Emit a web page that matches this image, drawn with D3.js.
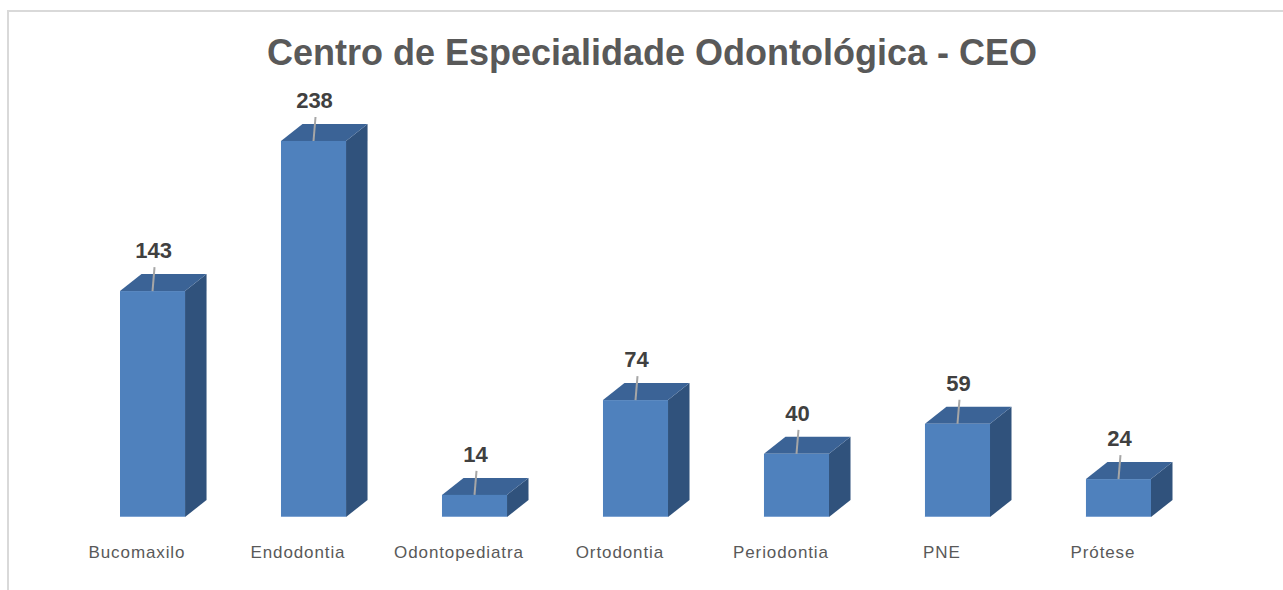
<!DOCTYPE html>
<html>
<head>
<meta charset="utf-8">
<script src="https://cdn.jsdelivr.net/npm/d3@7"></script>
<style>
  html, body { margin: 0; padding: 0; background: #ffffff; }
  svg { display: block; font-family: "Liberation Sans", Arial, sans-serif; }
</style>
</head>
<body>
<svg id="chart" width="1283" height="590"></svg>
<script>
const categories = ["Bucomaxilo", "Endodontia", "Odontopediatra", "Ortodontia", "Periodontia", "PNE", "Prótese"];
const values = [143, 238, 14, 74, 40, 59, 24];
const title = "Centro de Especialidade Odontológica - CEO";

const svg = d3.select("#chart");
const W = 1283, H = 590;

// outer border
svg.append("rect")
  .attr("x", 8).attr("y", 11)
  .attr("width", W + 10).attr("height", H + 10)
  .attr("fill", "#ffffff")
  .attr("stroke", "#d9d9d9").attr("stroke-width", 2);

svg.append("text")
  .attr("x", 652).attr("y", 65)
  .attr("text-anchor", "middle")
  .attr("font-size", 36).attr("font-weight", "bold")
  .attr("fill", "#595959")
  .text(title);

const x = d3.scaleBand()
  .domain(categories)
  .range([71.7, 1199.3])
  .paddingInner(0.596)
  .paddingOuter(0.3);

const y = d3.scaleLinear().domain([0, 250]).range([517, 122]);

const dx = 21.5, dy = 17;
const bw = x.bandwidth();

const g = svg.append("g");
const bars = g.selectAll("g.bar").data(values).join("g").attr("class", "bar");

// side face
bars.append("path")
  .attr("fill", "#30527c")
  .attr("d", (d, i) => {
    const x1 = x(categories[i]) + bw, yt = y(d), yb = y(0);
    return `M${x1},${yt} L${x1 + dx},${yt - dy} L${x1 + dx},${yb - dy} L${x1},${yb} Z`;
  });
// top face
bars.append("path")
  .attr("fill", "#3b6396")
  .attr("d", (d, i) => {
    const x0 = x(categories[i]), x1 = x0 + bw, yt = y(d);
    return `M${x0},${yt} L${x0 + dx},${yt - dy} L${x1 + dx},${yt - dy} L${x1},${yt} Z`;
  });
// front face
bars.append("rect")
  .attr("fill", "#4f81bd")
  .attr("x", (d, i) => x(categories[i]))
  .attr("y", d => y(d))
  .attr("width", bw)
  .attr("height", d => y(0) - y(d));
// bottom highlight
bars.append("line")
  .attr("x1", (d, i) => x(categories[i]))
  .attr("x2", (d, i) => x(categories[i]) + bw)
  .attr("y1", y(0) - 0.5).attr("y2", y(0) - 0.5)
  .attr("stroke", "#7ea3d2").attr("stroke-width", 1);

// leader lines
bars.append("line")
  .attr("x1", (d, i) => x(categories[i]) + bw / 2 + 2)
  .attr("y1", d => y(d) - 24)
  .attr("x2", (d, i) => x(categories[i]) + bw / 2)
  .attr("y2", d => y(d))
  .attr("stroke", "#a6a6a6").attr("stroke-width", 2);

// value labels
bars.append("text")
  .attr("x", (d, i) => x(categories[i]) + bw / 2 + 1)
  .attr("y", d => y(d) - 33)
  .attr("text-anchor", "middle")
  .attr("font-size", 22).attr("font-weight", "bold")
  .attr("fill", "#404040")
  .text(d => d);

// category labels
g.selectAll("text.cat").data(categories).join("text")
  .attr("class", "cat")
  .attr("x", d => x(d) + bw / 2 - 16 + 0.45)
  .attr("y", 557.5)
  .attr("text-anchor", "middle")
  .attr("font-size", 17)
  .attr("letter-spacing", 0.9)
  .attr("fill", "#595959")
  .text(d => d);
</script>
</body>
</html>
